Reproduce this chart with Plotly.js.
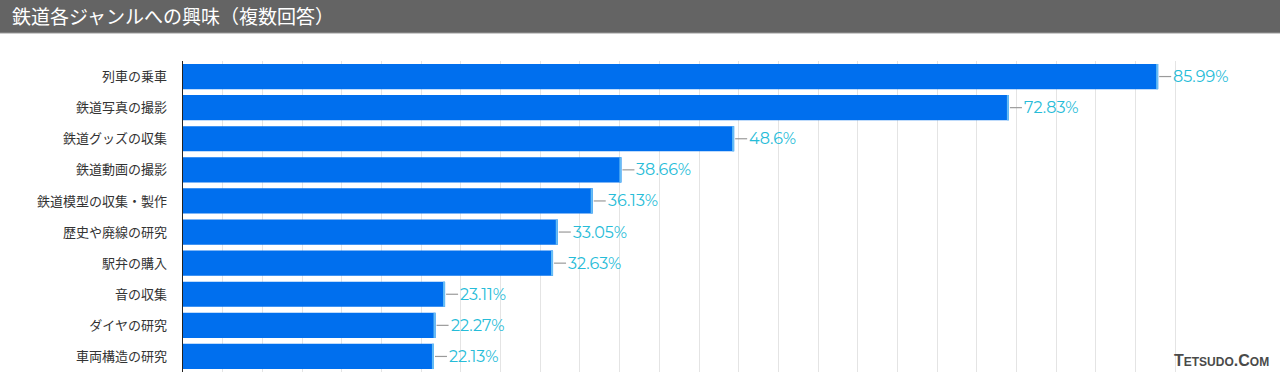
<!DOCTYPE html>
<html>
<head>
<meta charset="utf-8">
<script src="https://cdn.plot.ly/plotly-3.0.1.min.js"></script>
<style>html,body{margin:0;padding:0;background:#fff;}#chart{width:1280px;height:373px;}</style>
</head>
<body>
<div id="chart"></div>
<script>
const categories = ["列車の乗車","鉄道写真の撮影","鉄道グッズの収集","鉄道動画の撮影","鉄道模型の収集・製作","歴史や廃線の研究","駅弁の購入","音の収集","ダイヤの研究","車両構造の研究"];
const values = [85.99, 72.83, 48.6, 38.66, 36.13, 33.05, 32.63, 23.11, 22.27, 22.13];
const valueLabels = ["85.99%","72.83%","48.6%","38.66%","36.13%","33.05%","32.63%","23.11%","22.27%","22.13%"];
const titleText = "鉄道各ジャンルへの興味（複数回答）";

const L = 183, T = 61, W = 1032, H = 311;
const traces = [
  {type:'bar', orientation:'h', y:categories, x:values, marker:{color:'#006fee'}, hoverinfo:'skip'},
  {type:'bar', orientation:'h', y:categories, x:values.map(()=>0.18), base:values.map(v=>v-0.18), marker:{color:'#66bdf5'}, hoverinfo:'skip'}
];
const shapes = [
  {type:'rect', xref:'paper', yref:'paper', x0:-L/W, x1:(1280-L)/W, y0:1+(T-33)/H, y1:1+T/H, fillcolor:'#646464', line:{width:0}, layer:'above'},
  {type:'line', xref:'paper', yref:'paper', x0:-L/W, x1:(1280-L)/W, y0:1+(T-33)/H, y1:1+(T-33)/H, line:{color:'#9a9a9a', width:1}},
];
const annotations = [
  {xref:'paper', yref:'paper', x:-L/W + 10/W, y:1+(T-16)/H, xanchor:'left', yanchor:'middle', showarrow:false,
   text:titleText, font:{family:'Noto Sans CJK JP', size:19, color:'#ffffff'}},
  {xref:'paper', yref:'paper', x:(1271-L)/W, y:1 - (360 - T)/H, xanchor:'right', yanchor:'middle', showarrow:false,
   text:"<b>T<span style='font-size:12px'>ETSUDO</span>.C<span style='font-size:12px'>OM</span></b>", font:{family:'Liberation Sans', size:16, color:'#4a4a4a'}}
];
categories.forEach((c,i)=>{
  shapes.push({type:'line', xref:'x', yref:'y', xsizemode:'pixel', xanchor:values[i], x0:1, x1:13, y0:i, y1:i, line:{color:'#9a9a9a', width:1.2}});
  annotations.push({xref:'x', yref:'y', x:values[i], y:i, xanchor:'left', yanchor:'middle', xshift:13, showarrow:false,
    text:valueLabels[i], font:{family:'Montserrat, Open Sans', size:16, color:'#26bcd8'}});
});

const layout = {
  width:1280, height:373,
  margin:{l:L, r:1280-L-W, t:T, b:373-T-H, pad:0},
  paper_bgcolor:'#ffffff', plot_bgcolor:'#ffffff',
  barmode:'overlay', bargap:0.19, showlegend:false,
  xaxis:{range:[0,91], dtick:3.5, showticklabels:false, showgrid:true, gridcolor:'#e4e4e4', gridwidth:1, zeroline:false, showline:false, fixedrange:true},
  yaxis:{type:'category', autorange:'reversed', showgrid:false, zeroline:false, showline:true, linecolor:'#222', linewidth:1.5,
    ticks:'outside', ticklen:12, tickcolor:'rgba(0,0,0,0)', tickfont:{family:'Noto Sans CJK JP', size:13, color:'#333333'}},
  shapes:shapes, annotations:annotations
};
Plotly.newPlot('chart', traces, layout, {displayModeBar:false, staticPlot:true});
</script>
</body>
</html>
